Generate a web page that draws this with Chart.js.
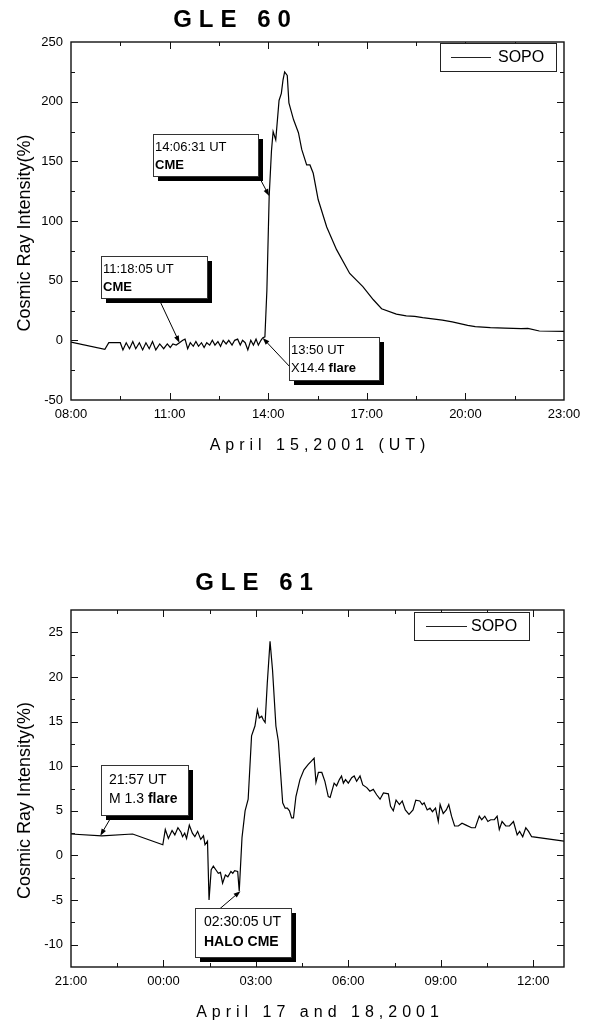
<!DOCTYPE html>
<html>
<head>
<meta charset="utf-8">
<title>GLE 60 / GLE 61 - SOPO</title>
<script src="https://cdn.jsdelivr.net/npm/chart.js@4.4.1/dist/chart.umd.min.js"></script>
<style>
  html, body { margin: 0; padding: 0; background: #fff; }
  .panel { position: absolute; left: 0; width: 592px; height: 513px; }
  #panel60 { top: 0; }
  #panel61 { top: 513px; }
</style>
</head>
<body>
<div class="panel" id="panel60"><canvas id="gle60" width="592" height="513"></canvas></div>
<div class="panel" id="panel61"><canvas id="gle61" width="592" height="513"></canvas></div>
<script>
// --- Data: GLE 60, April 15 2001 (hours UT) ---
const gle60Hours = [
  8.00, 9.03, 9.15, 9.50, 9.58, 9.68, 9.78, 9.88, 9.97, 10.08, 10.18, 10.28, 10.38, 10.48,
  10.58, 10.70, 10.82, 10.93, 11.02, 11.10, 11.20, 11.30, 11.40, 11.47, 11.55, 11.63, 11.72,
  11.80, 11.88, 11.97, 12.05, 12.13, 12.22, 12.30, 12.38, 12.47, 12.55, 12.63, 12.72, 12.80,
  12.90, 12.98, 13.07, 13.15, 13.22, 13.30, 13.38, 13.47, 13.55, 13.63, 13.70, 13.78, 13.83,
  13.90, 13.96, 14.03, 14.10, 14.15, 14.23, 14.33, 14.40, 14.45, 14.50, 14.58, 14.63, 14.77,
  14.92, 15.02, 15.17, 15.27, 15.37, 15.52, 15.78, 16.08, 16.48, 16.88, 17.20, 17.45, 17.90,
  18.20, 18.46, 18.70, 19.00, 19.30, 19.60, 20.07, 20.30, 20.76, 21.20, 21.70, 21.90, 22.25, 23.00
];
const gle60Values = [
  -1.5, -7.5, -2, -2, -8, -2, -7, -1, -7, -2, -8, -2, -7, -1,
  -8, -3, -7, -3, -6, -3, -4, -2, 0, 1, -7, -2, -5,
  -1, -5, -2, -6, -2, -4, 0, -4, -1, -5, 0, -3, 0,
  -4, 0, 1, -4, 0, -2, -8, 0, -4, 1, -4, 0, 2,
  3, 42, 121, 159, 175, 168, 201, 207, 218, 225, 222, 199, 185,
  174, 160, 147, 147, 140, 118, 95, 76, 56, 45, 34, 26.5, 22,
  20.5, 20, 19, 18, 17, 15.4, 12.6, 11.5, 10.6, 10.3, 9.8, 10, 7.8, 7.5
];
const gle60XTicks = [8, 9.5, 11, 12.5, 14, 15.5, 17, 18.5, 20, 21.5, 23];
const gle60YTicks = [-50, -25, 0, 25, 50, 75, 100, 125, 150, 175, 200, 225, 250];

// --- Data: GLE 61, April 17-18 2001 (hours from 00:00 April 17, so 24 = 00:00 April 18) ---
const gle61Hours = [
  21.00, 22.00, 23.00, 23.98, 24.06, 24.16, 24.28, 24.37, 24.47, 24.57, 24.62, 24.69, 24.75,
  24.84, 24.94, 25.02, 25.11, 25.21, 25.30, 25.35, 25.43, 25.48, 25.55, 25.62, 25.70, 25.78,
  25.85, 25.92, 26.01, 26.09, 26.19, 26.25, 26.31, 26.41, 26.46, 26.55, 26.65, 26.75, 26.86,
  26.97, 27.05, 27.11, 27.19, 27.24, 27.30, 27.37, 27.46, 27.54, 27.65, 27.73, 27.87, 27.95,
  28.02, 28.09, 28.16, 28.22, 28.30, 28.43, 28.56, 28.70, 28.81, 28.89, 28.95, 29.03, 29.14,
  29.24, 29.35, 29.41, 29.54, 29.62, 29.71, 29.78, 29.84, 29.91, 30.00, 30.11, 30.19, 30.27,
  30.38, 30.47, 30.60, 30.70, 30.81, 30.92, 31.03, 31.14, 31.30, 31.37, 31.46, 31.55, 31.66,
  31.75, 31.85, 31.97, 32.10, 32.19, 32.32, 32.40, 32.46, 32.56, 32.65, 32.73, 32.83, 32.92,
  32.98, 33.08, 33.18, 33.26, 33.35, 33.45, 33.57, 33.69, 33.82, 34.00, 34.12, 34.25, 34.33,
  34.43, 34.53, 34.62, 34.74, 34.83, 34.90, 34.99, 35.11, 35.23, 35.36, 35.48, 35.56, 35.66,
  35.76, 35.85, 35.95, 37.00
];
const gle61Values = [
  2.4, 2.2, 2.4, 1.2, 2.9, 1.9, 2.8, 2.3, 3.1, 2.6, 2.1, 2.5, 1.9,
  3.4, 2.5, 2.1, 2.7, 1.8, 2.2, 1.2, 1.6, -5.0, -1.6, -1.2, -1.6, -2.0,
  -1.9, -3.1, -2.2, -2.4, -1.8, -2.0, -1.7, -1.8, -4.0, 2.0, 5.0, 6.3, 13.4,
  14.5, 16.3, 15.4, 15.6, 15.2, 14.9, 19.3, 24.0, 20.8, 14.5, 12.8, 5.9, 5.3,
  5.3, 5.0, 4.2, 4.2, 6.6, 8.5, 9.6, 10.2, 10.6, 10.9, 8.2, 9.3, 9.3,
  8.3, 6.6, 6.5, 8.1, 7.8, 8.5, 8.9, 8.1, 8.5, 8.1, 8.7, 8.9, 8.3,
  8.9, 7.9, 7.6, 7.2, 7.4, 6.8, 6.3, 7.0, 6.9, 5.5, 5.0, 6.2, 5.7,
  6.1, 5.1, 4.6, 5.1, 6.2, 6.1, 5.7, 5.9, 5.1, 5.3, 4.9, 5.3, 3.8,
  5.7, 4.7, 5.1, 5.7, 4.4, 3.3, 3.3, 3.6, 3.4, 3.1, 3.1, 4.4, 4.0,
  4.4, 3.8, 4.0, 4.0, 4.4, 2.9, 3.8, 3.3, 3.3, 3.8, 2.3, 2.7, 2.1,
  3.1, 2.7, 2.1, 1.6
];
const gle61XTicks = [21, 22.5, 24, 25.5, 27, 28.5, 30, 31.5, 33, 34.5, 36];
const gle61YTicks = [-12.5, -10, -7.5, -5, -2.5, 0, 2.5, 5, 7.5, 10, 12.5, 15, 17.5, 20, 22.5, 25, 27.5];

// Callout boxes: box = top-left corner in data units, tip = point the arrow touches
const gle60Notes = [
  { lines: [[['14:06:31 UT', false]], [['CME', true]]], box: [10.49, 172.9], size: [105, 42], rows: [13, 31], pad: 2, from: [104, 39], tip: [14.03, 121] },
  { lines: [[['11:18:05 UT', false]], [['CME', true]]], box: [8.91, 70.7], size: [106, 42], rows: [13, 31], pad: 2, from: [57, 41], tip: [11.30, -2] },
  { lines: [[['13:50 UT', false]], [['X14.4 ', false], ['flare', true]]], box: [14.63, 2.8], size: [90, 43], rows: [13, 31], pad: 2, from: [2, 31], tip: [13.833, 2] }
];
const gle61Notes = [
  { lines: [[['21:57 UT', false]], [['M 1.3 ', false], ['flare', true]]], box: [21.97, 10.08], size: [87, 50], rows: [15, 34], pad: 8, from: [12, 49], tip: [21.95, 2.2] },
  { lines: [[['02:30:05 UT', false]], [['HALO CME', true]]], box: [25.02, -5.93], size: [96, 49], rows: [14, 34], pad: 9, from: [21, 4], tip: [26.5, -4.0] }
];

const FONT = "Arial, 'Liberation Sans', sans-serif";
Chart.defaults.font.family = FONT;
Chart.defaults.color = '#000';

function hourLabel(v) {
    const h = ((Math.round(v) % 24) + 24) % 24;
    return String(h).padStart(2, '0') + ':00';
}

function isMultiple(v, step) {
    return Math.abs(v / step - Math.round(v / step)) < 1e-6;
}

// draw text centred on cx with extra space between characters
function drawSpaced(ctx, text, cx, cy, spacing) {
    const chars = [...text];
    const widths = chars.map(ch => ctx.measureText(ch).width);
    const total = widths.reduce((s, w) => s + w, 0) + spacing * (chars.length - 1);
    let x = cx - total / 2;
    ctx.textAlign = 'left';
    chars.forEach((ch, i) => {
        ctx.fillText(ch, x, cy);
        x += widths[i] + spacing;
    });
}

function drawArrow(ctx, sx, sy, ex, ey) {
    const ang = Math.atan2(ey - sy, ex - sx);
    ctx.beginPath();
    ctx.moveTo(sx, sy);
    ctx.lineTo(ex - 5 * Math.cos(ang), ey - 5 * Math.sin(ang));
    ctx.stroke();
    ctx.beginPath();
    ctx.moveTo(ex, ey);
    ctx.lineTo(ex - 7 * Math.cos(ang) + 2.5 * Math.sin(ang), ey - 7 * Math.sin(ang) - 2.5 * Math.cos(ang));
    ctx.lineTo(ex - 7 * Math.cos(ang) - 2.5 * Math.sin(ang), ey - 7 * Math.sin(ang) + 2.5 * Math.cos(ang));
    ctx.closePath();
    ctx.fill();
}

// Origin-style frame, inward ticks, titles, legend and callouts
const originPlugin = {
    id: 'origin',
    afterDraw(chart, args, opts) {
        const { ctx, chartArea: a, scales: { x, y } } = chart;
        ctx.save();

        // frame
        ctx.strokeStyle = '#111';
        ctx.lineWidth = 1.4;
        ctx.strokeRect(a.left, a.top, a.right - a.left, a.bottom - a.top);

        // ticks on all four sides, pointing inward
        ctx.lineWidth = 1;
        ctx.beginPath();
        x.ticks.forEach(t => {
            const px = Math.round(x.getPixelForValue(t.value)) + 0.5;
            if (px <= a.left + 1 || px >= a.right - 1) return;
            const len = isMultiple(t.value - x.min, 3) ? 7 : 4;
            ctx.moveTo(px, a.bottom); ctx.lineTo(px, a.bottom - len);
            ctx.moveTo(px, a.top); ctx.lineTo(px, a.top + len);
        });
        y.ticks.forEach(t => {
            const py = Math.round(y.getPixelForValue(t.value)) + 0.5;
            if (py <= a.top + 1 || py >= a.bottom - 1) return;
            const len = isMultiple(t.value, opts.yMajor) ? 7 : 4;
            ctx.moveTo(a.left, py); ctx.lineTo(a.left + len, py);
            ctx.moveTo(a.right, py); ctx.lineTo(a.right - len, py);
        });
        ctx.stroke();

        ctx.fillStyle = '#000';
        ctx.textBaseline = 'middle';

        // chart title
        ctx.font = 'bold 24px ' + FONT;
        drawSpaced(ctx, opts.title, opts.titleX, opts.titleY, 7);

        // x axis title
        ctx.font = '16px ' + FONT;
        drawSpaced(ctx, opts.xTitle, (a.left + a.right) / 2, a.bottom + 46, 5);

        // y axis title
        ctx.save();
        ctx.translate(25, (a.top + a.bottom) / 2 + 12);
        ctx.rotate(-Math.PI / 2);
        ctx.font = '18px ' + FONT;
        ctx.textAlign = 'center';
        ctx.fillText(opts.yTitle, 0, 0);
        ctx.restore();

        // legend
        const lg = opts.legend;
        const lx = a.right - lg.right - lg.w, ly = a.top + lg.top;
        ctx.fillStyle = '#fff';
        ctx.fillRect(lx, ly, lg.w, lg.h);
        ctx.strokeStyle = '#222';
        ctx.strokeRect(lx + 0.5, ly + 0.5, lg.w, lg.h);
        ctx.beginPath();
        ctx.moveTo(lx + lg.line[0], ly + lg.h / 2 + 0.5);
        ctx.lineTo(lx + lg.line[1], ly + lg.h / 2 + 0.5);
        ctx.stroke();
        ctx.fillStyle = '#000';
        ctx.font = '16px ' + FONT;
        ctx.textAlign = 'left';
        ctx.fillText(chart.data.datasets[0].label, lx + lg.text, ly + lg.h / 2 + 1);

        // callouts
        opts.notes.forEach(n => {
            const bx = Math.round(x.getPixelForValue(n.box[0]));
            const by = Math.round(y.getPixelForValue(n.box[1]));
            const [w, h] = n.size;
            ctx.strokeStyle = '#000';
            ctx.fillStyle = '#000';
            ctx.lineWidth = 1;
            drawArrow(ctx, bx + n.from[0], by + n.from[1], x.getPixelForValue(n.tip[0]), y.getPixelForValue(n.tip[1]));
            ctx.fillRect(bx + 5, by + 5, w, h);
            ctx.fillStyle = '#fff';
            ctx.fillRect(bx, by, w, h);
            ctx.strokeStyle = '#333';
            ctx.strokeRect(bx + 0.5, by + 0.5, w, h);
            ctx.fillStyle = '#000';
            ctx.textAlign = 'left';
            n.lines.forEach((segs, i) => {
                let tx = bx + n.pad;
                segs.forEach(([t, bold]) => {
                    ctx.font = (bold ? 'bold ' : '') + opts.noteSize + 'px ' + FONT;
                    ctx.fillText(t, tx, by + n.rows[i]);
                    tx += ctx.measureText(t).width;
                });
            });
        });

        ctx.restore();
    }
};

function buildChart(canvasId, cfg) {
    const points = cfg.hours.map((h, i) => ({ x: h, y: cfg.values[i] }));
    return new Chart(document.getElementById(canvasId), {
        type: 'line',
        data: {
            datasets: [{
                label: 'SOPO',
                data: points,
                borderColor: '#000',
                borderWidth: 1.2,
                pointRadius: 0,
                tension: 0,
                fill: false
            }]
        },
        options: {
            responsive: false,
            animation: false,
            events: [],
            layout: { padding: { left: 0, right: 28, top: cfg.top, bottom: cfg.bottom } },
            plugins: {
                legend: { display: false },
                tooltip: { enabled: false },
                origin: cfg.plugin
            },
            scales: {
                x: {
                    type: 'linear',
                    min: cfg.xMin,
                    max: cfg.xMax,
                    grid: { display: false, drawTicks: false },
                    border: { display: false },
                    afterBuildTicks: s => { s.ticks = cfg.xTicks.map(v => ({ value: v })); },
                    afterFit: s => { s.height = 30; },
                    ticks: {
                        autoSkip: false,
                        maxRotation: 0,
                        padding: 7,
                        font: { size: 13 },
                        callback: v => isMultiple(v - cfg.xMin, 3) ? hourLabel(v) : ''
                    }
                },
                y: {
                    min: cfg.yMin,
                    max: cfg.yMax,
                    grid: { display: false, drawTicks: false },
                    border: { display: false },
                    afterBuildTicks: s => { s.ticks = cfg.yTicks.map(v => ({ value: v })); },
                    afterFit: s => { s.width = 71; },
                    ticks: {
                        autoSkip: false,
                        padding: 8,
                        font: { size: 13 },
                        callback: v => isMultiple(v, cfg.plugin.yMajor) ? String(v) : ''
                    }
                }
            }
        },
        plugins: [originPlugin]
    });
}

buildChart('gle60', {
    hours: gle60Hours, values: gle60Values,
    xMin: 8, xMax: 23, yMin: -50, yMax: 250,
    xTicks: gle60XTicks, yTicks: gle60YTicks,
    top: 42, bottom: 83,
    plugin: {
        title: 'GLE 60', titleX: 232, titleY: 20,
        xTitle: 'April 15,2001 (UT)',
        yTitle: 'Cosmic Ray Intensity(%)',
        yMajor: 50,
        noteSize: 13,
        notes: gle60Notes,
        legend: { right: 8, top: 1, w: 116, h: 28, line: [11, 51], text: 58 }
    }
});

buildChart('gle61', {
    hours: gle61Hours, values: gle61Values,
    xMin: 21, xMax: 37, yMin: -12.5, yMax: 27.5,
    xTicks: gle61XTicks, yTicks: gle61YTicks,
    top: 97, bottom: 29,
    plugin: {
        title: 'GLE 61', titleX: 254, titleY: 70,
        xTitle: 'April 17 and 18,2001',
        yTitle: 'Cosmic Ray Intensity(%)',
        yMajor: 5,
        noteSize: 14,
        notes: gle61Notes,
        legend: { right: 35, top: 2, w: 115, h: 28, line: [12, 53], text: 57 }
    }
});
</script>
</body>
</html>
